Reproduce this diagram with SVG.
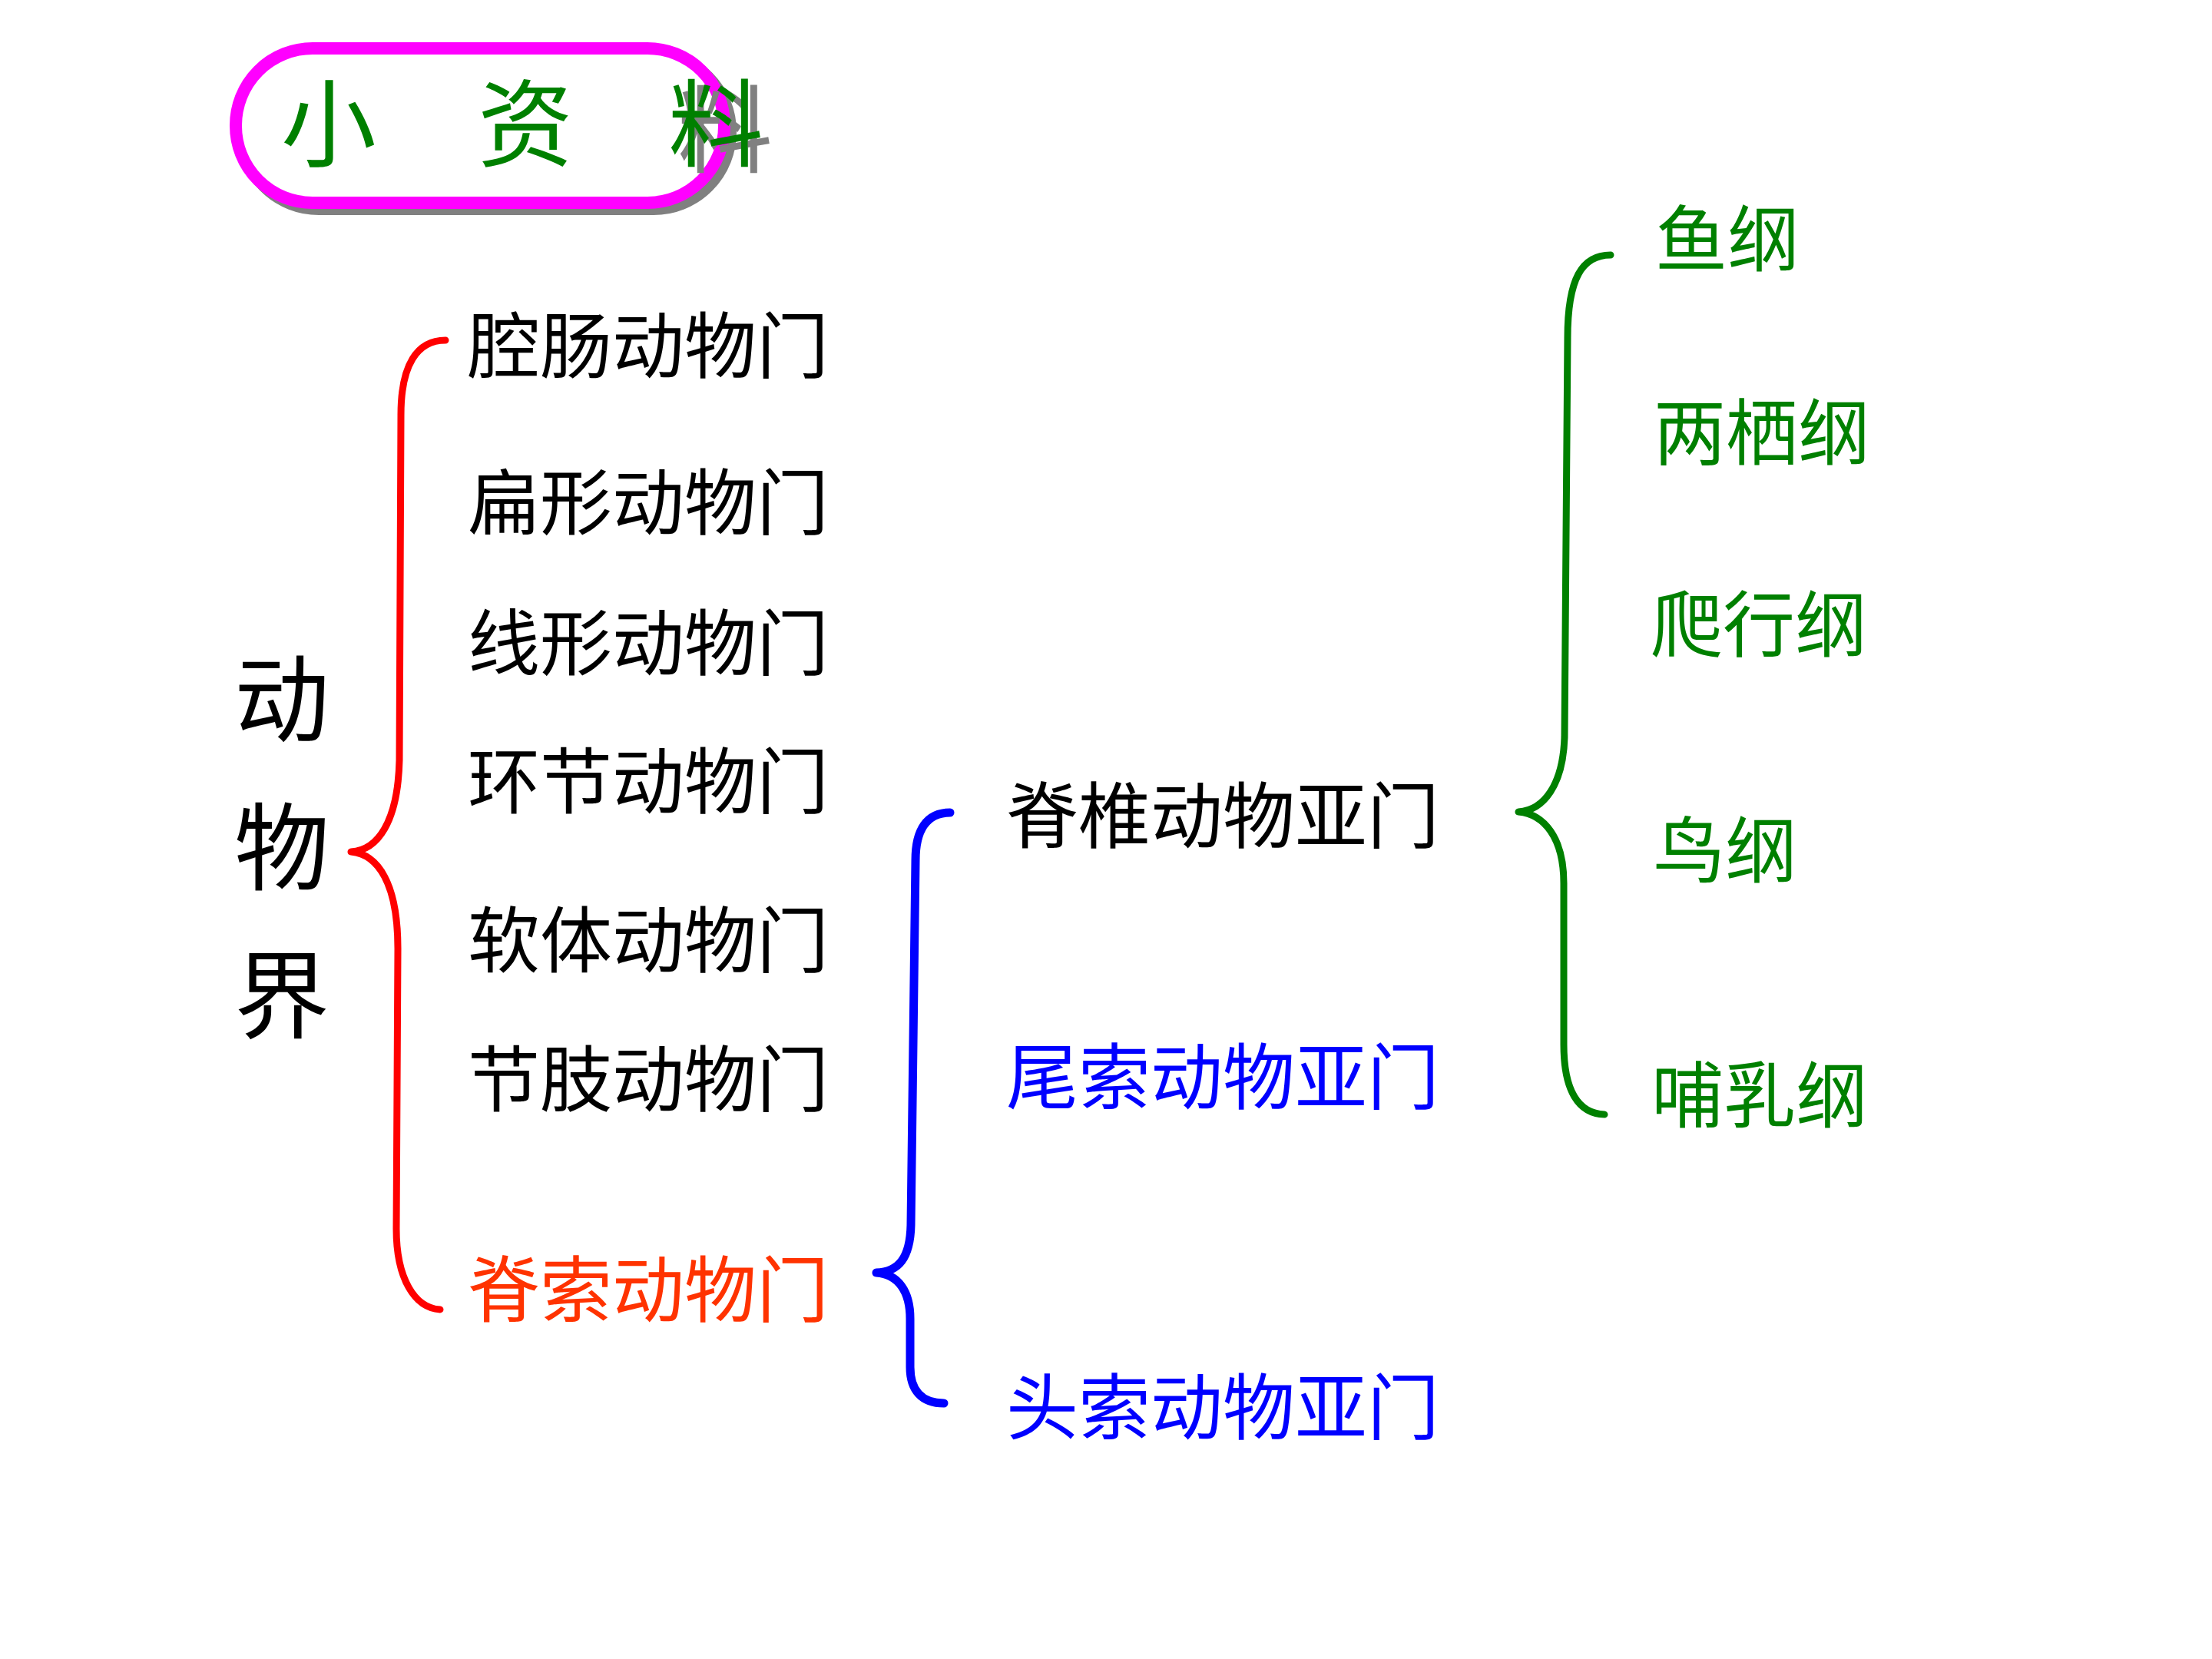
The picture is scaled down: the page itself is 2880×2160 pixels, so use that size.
<svg xmlns="http://www.w3.org/2000/svg" width="2880" height="2160" viewBox="0 0 2880 2160">
<defs>
  <filter id="shadow" x="-20%" y="-20%" width="150%" height="150%">
    <feOffset in="SourceAlpha" dx="12" dy="8" result="off"/>
    <feFlood flood-color="#808080"/>
    <feComposite in2="off" operator="in" result="sh"/>
    <feMerge><feMergeNode in="sh"/><feMergeNode in="SourceGraphic"/></feMerge>
  </filter>
</defs>
<style>
text { font-family: "Noto Sans CJK SC", "Noto Sans CJK TC", sans-serif; font-weight: 400; }
.big { font-size: 124px; }
.mid { font-size: 94px; }
.black { fill: #000000; }
.green { fill: #008000; }
.blue { fill: #0000FF; }
.red { fill: #FF3300; }
.brace { fill: none; stroke-linecap: round; stroke-linejoin: round; }
</style>
<rect x="0" y="0" width="2880" height="2160" fill="#FFFFFF"/>

<g id="title">
  <rect x="315" y="71" width="636" height="201" rx="100" ry="100" fill="#808080" stroke="#808080" stroke-width="16"/>
  <rect x="307" y="63" width="636" height="201" rx="100" ry="100" fill="#FFFFFF" stroke="#FF00FF" stroke-width="16"/>
  <text class="big green" x="366" y="207">小</text>
  <text class="big green" x="622" y="207">资</text>
  <text class="big green" x="870" y="207" filter="url(#shadow)">料</text>
</g>

<g id="kingdom">
  <text class="big black" x="305" y="956">动</text>
  <text class="big black" x="305" y="1149">物</text>
  <text class="big black" x="305" y="1342">界</text>
</g>

<g id="phyla">
  <text class="mid black" x="609" y="485">腔肠动物门</text>
  <text class="mid black" x="609" y="689">扁形动物门</text>
  <text class="mid black" x="609" y="872">线形动物门</text>
  <text class="mid black" x="609" y="1052">环节动物门</text>
  <text class="mid black" x="609" y="1259">软体动物门</text>
  <text class="mid black" x="609" y="1440">节肢动物门</text>
  <text class="mid red" x="609" y="1714">脊索动物门</text>
</g>

<g id="subphyla">
  <text class="mid black" x="1310" y="1097">脊椎动物亚门</text>
  <text class="mid blue" x="1310" y="1437">尾索动物亚门</text>
  <text class="mid blue" x="1310" y="1867">头索动物亚门</text>
</g>

<g id="classes">
  <text class="mid green" x="2155" y="346">鱼纲</text>
  <text class="mid green" x="2153" y="598">两栖纲</text>
  <text class="mid green" x="2149" y="848">爬行纲</text>
  <text class="mid green" x="2152" y="1142">鸟纲</text>
  <text class="mid green" x="2150" y="1461">哺乳纲</text>
</g>

<g id="connectors">
  <path class="brace" stroke="#FF0000" stroke-width="9" d="M 580 443 C 543 443, 522 475, 522 540 L 520 990 C 518 1070, 492 1107, 457 1109 C 492 1112, 518 1150, 518 1235 L 516 1600 C 516 1665, 540 1703, 573 1705"/>
  <path class="brace" stroke="#0000FF" stroke-width="11" d="M 1237 1058 C 1207 1058, 1192 1080, 1192 1120 L 1186 1595 C 1185 1638, 1170 1656, 1141 1657 C 1170 1659, 1185 1682, 1185 1717 L 1185 1780 C 1185 1810, 1200 1827, 1229 1827"/>
  <path class="brace" stroke="#008000" stroke-width="9" d="M 2097 332 C 2060 332, 2041 362, 2041 440 L 2037 960 C 2035 1022, 2010 1055, 1977 1057 C 2010 1060, 2036 1090, 2036 1150 L 2036 1360 C 2036 1420, 2055 1450, 2089 1451"/>
</g>
</svg>
